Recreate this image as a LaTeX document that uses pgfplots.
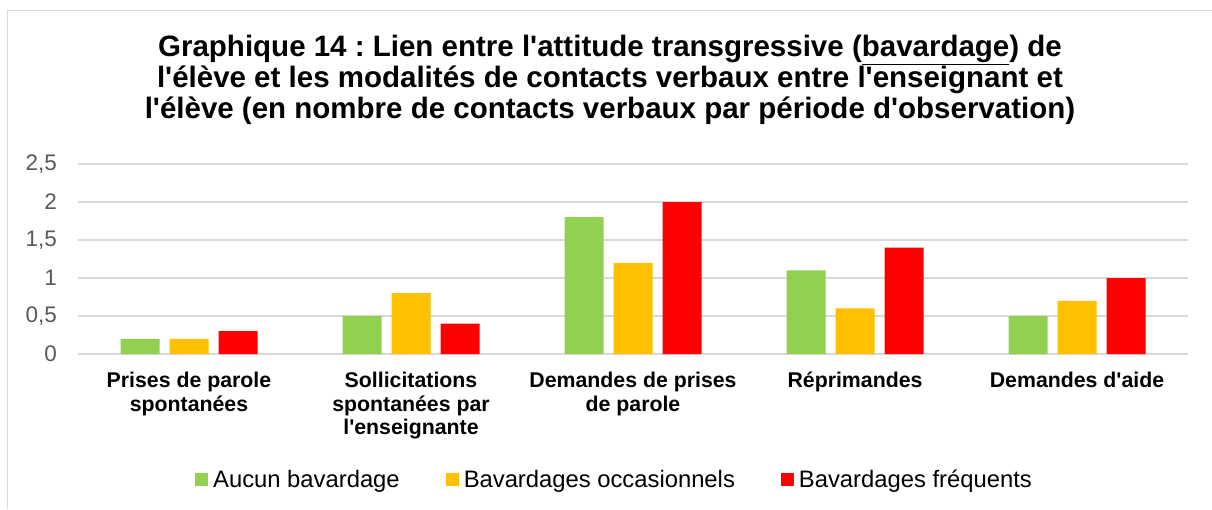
\documentclass[border=0pt]{standalone}
\usepackage{pgfplots}
\pgfplotsset{compat=1.18}
\usepackage{fontspec}
\setmainfont{Liberation Sans}[Ligatures=TeXOff]
\frenchspacing
\definecolor{cgreen}{HTML}{92D050}
\definecolor{cyellow}{HTML}{FFC000}
\definecolor{cred}{HTML}{FF0000}
\definecolor{gridc}{HTML}{D9D9D9}
\definecolor{ticktext}{HTML}{595959}
\begin{document}
\begin{tikzpicture}
\path[use as bounding box] (0pt,0pt) rectangle (1212pt,509pt);
\draw[gridc, line width=1.3pt] (7.5pt,0pt) -- (7.5pt,498.5pt) -- (1212pt,498.5pt);
\node[font=\fontsize{29.5}{31}\selectfont\bfseries, align=center, anchor=north, inner sep=0pt] at (610pt,474pt)
{Graphique 14 : Lien entre l'attitude transgressive (\underline{bavardage}) de\\
l'élève et les modalités de contacts verbaux entre l'enseignant et\\
l'élève (en nombre de contacts verbaux par période d'observation)};
\begin{axis}[
  at={(78pt,155pt)}, anchor=south west,
  scale only axis, width=1110pt, height=190pt,
  ybar=10pt, bar width=39pt,
  xmin=-0.5, xmax=4.5, ymin=0, ymax=2.5,
  xtick={0,1,2,3,4},
  xticklabels={{Prises de parole\\spontanées},{Sollicitations\\spontanées par\\l'enseignante},{Demandes de prises\\de parole},{Réprimandes},{Demandes d'aide}},
  ytick={0,0.5,1,1.5,2,2.5},
  yticklabels={0,{0,5},1,{1,5},2,{2,5}},
  axis line style={draw=none},
  major tick length=0pt,
  ymajorgrids,
  major grid style={gridc, line width=1.3pt},
  yticklabel style={font=\fontsize{22.5}{26}\selectfont, text=ticktext, anchor=east, inner sep=0pt, xshift=-21pt},
  xticklabel style={font=\fontsize{21.3}{23.5}\selectfont\bfseries, align=center, anchor=north, inner sep=0pt, yshift=-18pt},
  legend columns=3,
  legend style={at={(0.4847,-0.663)}, anchor=center, draw=none, fill=none,
    font=\fontsize{23.8}{27}\selectfont,
    nodes={inner xsep=5pt, inner ysep=0pt, anchor=base west},
    /tikz/every even column/.append style={column sep=41pt}},
  legend image code/.code={\fill[#1] (0pt,1.5pt) rectangle (13pt,14.5pt);},
]
\addplot[fill=cgreen, draw=none] coordinates {(0,0.2) (1,0.5) (2,1.8) (3,1.1) (4,0.5)};
\addplot[fill=cyellow, draw=none] coordinates {(0,0.2) (1,0.8) (2,1.2) (3,0.6) (4,0.7)};
\addplot[fill=cred, draw=none] coordinates {(0,0.3) (1,0.4) (2,2.0) (3,1.4) (4,1.0)};
\legend{Aucun bavardage, Bavardages occasionnels, Bavardages fréquents}
\end{axis}
\end{tikzpicture}
\end{document}
